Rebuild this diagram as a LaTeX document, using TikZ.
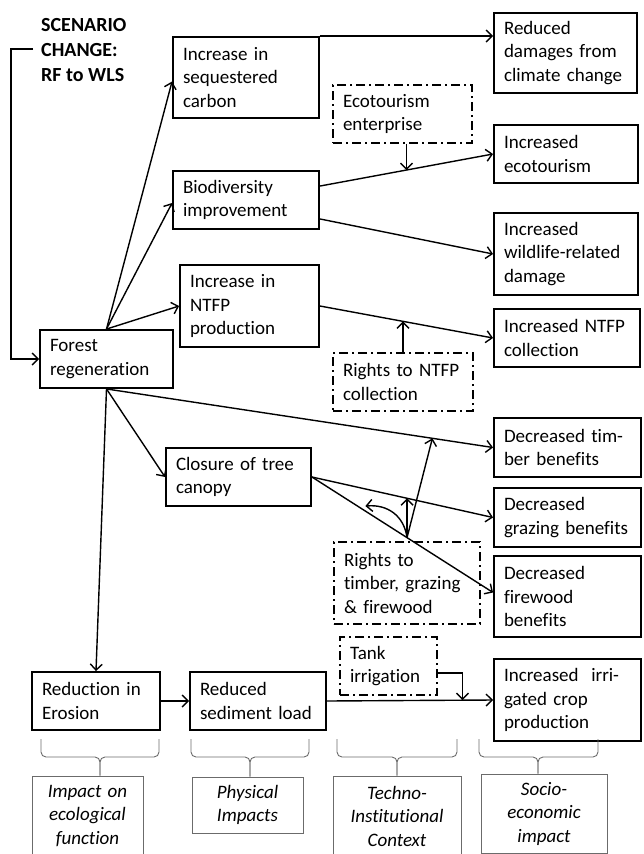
\documentclass[tikz,border=0pt]{standalone}
\usepackage{fontspec}
\setmainfont[Ligatures=NoCommon]{Carlito}
\usetikzlibrary{arrows.meta,calc}
\begin{document}
\begin{tikzpicture}[x=1pt,y=-1pt,
  txt/.style={font=\fontsize{19}{23.5}\selectfont},
  box/.style 2 args={draw, line width=1.9pt, minimum width=#1, minimum height=#2,
     text width=#1-20pt, inner xsep=10pt, inner ysep=0pt, align=left, txt},
  ddbox/.style 2 args={box={#1}{#2}, dash pattern=on 9pt off 4pt on 2pt off 4pt},
  lab/.style 2 args={draw=black!58, line width=0.9pt, minimum width=#1, minimum height=#2,
     text width=#1-8pt, inner xsep=4pt, inner ysep=0pt, align=center,
     font=\fontsize{19}{23.5}\selectfont\itshape},
  arr/.style={-{Straight Barb[length=6pt,width=12pt]}, line width=1.4pt},
  brc/.style={draw=black!58, line width=0.9pt, rounded corners=5pt}]
\useasboundingbox (0,0) rectangle (643,854);

% scenario
\node[anchor=west, inner sep=0pt, align=left, font=\fontsize{20}{25}\selectfont\bfseries] (scen) at (41,50) {SCENARIO\\CHANGE:\\RF to WLS};
\coordinate (sc) at (33,49);
\coordinate (scb) at (11,49);

% main boxes
\node[box={146pt}{81pt}] (carbon) at (246,77.5) {Increase in\\sequestered\\carbon};
\node[box={143pt}{80pt}] (damages) at (565.5,53) {Reduced\\damages~from\\climate~change};
\node[box={146pt}{58pt}] (biod) at (246,200) {Biodiversity\\improvement};
\node[box={144pt}{58pt}] (ecot) at (566,154) {Increased\\ecotourism};
\node[box={144pt}{82pt}] (wild) at (566,254) {Increased\\wildlife-related\\damage};
\node[box={139pt}{82pt}] (ntfp) at (249.5,306) {Increase in\\NTFP\\production};
\node[box={146pt}{58pt}] (coll) at (567,338) {Increased~NTFP\\collection};
\node[box={133pt}{58pt}] (forest) at (106.5,359) {Forest\\regeneration};
\node[box={147pt}{59pt}] (timber) at (567.5,447.5) {Decreased~tim-\\ber~benefits};
\node[box={145pt}{58pt}] (closure) at (238.5,477) {Closure~of~tree\\canopy};
\node[box={147pt}{59pt}] (graz) at (567.5,517.5) {Decreased\\grazing~benefits};
\node[box={147pt}{81pt}] (fire) at (567.5,596.5) {Decreased\\firewood\\benefits};
\node[box={128pt}{58pt}] (eros) at (96,701) {Reduction~in\\Erosion};
\node[box={136pt}{58pt}] (sed) at (258,701) {Reduced\\sediment~load};
\node[box={147pt}{82pt}] (irr) at (567.5,700) {Increased~~irri-\\gated~crop\\production};

% context boxes
\node[ddbox={139pt}{58pt}] (ecoent) at (402.5,114) {Ecotourism\\enterprise};
\node[ddbox={140pt}{58pt}] (rntfp) at (403,382) {Rights~to~NTFP\\collection};
\node[ddbox={146pt}{82pt}] (rtim) at (407,583) {Rights to\\timber,~grazing\\\&~firewood};
\node[ddbox={97pt}{58pt}] (tank) at (388.5,666) {Tank\\irrigation};

% category labels
\node[lab={111pt}{80pt}] (lab1) at (87.5,816) {Impact on\\ecological\\function};
\node[lab={111pt}{56pt}] (lab2) at (247.5,805) {Physical\\Impacts};
\node[lab={128pt}{80pt}] (lab3) at (397,816) {Techno-\\Institutional\\Context};
\node[lab={126pt}{79pt}] (lab4) at (544,813.5) {Socio-\\economic\\impact};

% braces
\draw[brc] (41,739) -- (41,757) -- (100,757) -- (lab1.north -| 100,0);
\draw[brc] (159,739) -- (159,757) -- (100,757) -- (lab1.north -| 100,0);
\draw[brc] (191,739) -- (191,757) -- (250,757) -- (lab2.north -| 250,0);
\draw[brc] (309,739) -- (309,757) -- (250,757) -- (lab2.north -| 250,0);
\draw[brc] (337,739) -- (337,757) -- (397,757) -- (lab3.north);
\draw[brc] (457,739) -- (457,757) -- (397,757) -- (lab3.north);
\draw[brc] (479,739) -- (479,757) -- (538,757) -- (lab4.north -| 538,0);
\draw[brc] (598,739) -- (598,757) -- (538,757) -- (lab4.north -| 538,0);

% connectors
\draw[arr] (sc) -- (scb) |- (forest.west);
\draw[arr] (forest.north) -- ($(carbon.west)+(0,4)$);
\draw[arr] (forest.north) -- ($(biod.west)+(0,3)$);
\draw[arr] (forest.north) -- (ntfp.west);
\draw[arr] (carbon.north east) -- (carbon.north east -| damages.west);
\coordinate (b1) at ($(biod.north east)+(0,16)$);
\draw[arr] (b1) -- (ecot.west);
\draw[arr] ($(biod.south east)+(0,-11)$) -- (wild.west);
\coordinate (m1) at ($(b1)!0.5!(ecot.west)$);
\draw[arr] (ecoent.south -| m1) -- (m1);
\draw[arr] (ntfp.east) -- (coll.west);
\coordinate (m2) at ($(ntfp.east)!0.48!(coll.west)$);
\draw[arr] (rntfp.north -| m2) -- (m2);
\draw[arr] (forest.south) -- (timber.west);
\draw[arr] (forest.south) -- (closure.west);
\draw[arr] (forest.south) -- (eros.north);
\coordinate (F) at ($(fire.west)+(0,-4)$);
\draw[arr] (closure.east) -- (graz.west);
\draw[arr] (closure.east) -- (F);
\coordinate (J) at ($(closure.east)!0.525!(F)$);
\coordinate (G) at ($(closure.east)!0.525!(graz.west)$);
\coordinate (T) at ($(forest.south)!0.843!(timber.west)$);
\coordinate (W) at ($(closure.east)!0.295!(F)+(0,-5)$);
\draw[arr] (J) -- (G);
\draw[arr] (J) -- (T);
\draw[arr] (J) .. controls ($(J)+(-3,-22)$) and ($(W)+(22,-2)$) .. (W);
\draw[arr] (eros.east) -- (sed.west);
\draw[arr] (sed.east) -- (irr.west);
\coordinate (m3) at ($(sed.east)!0.816!(irr.west)$);
\draw[arr] ($(tank.east)+(0,7)$) -| (m3);
\end{tikzpicture}
\end{document}
